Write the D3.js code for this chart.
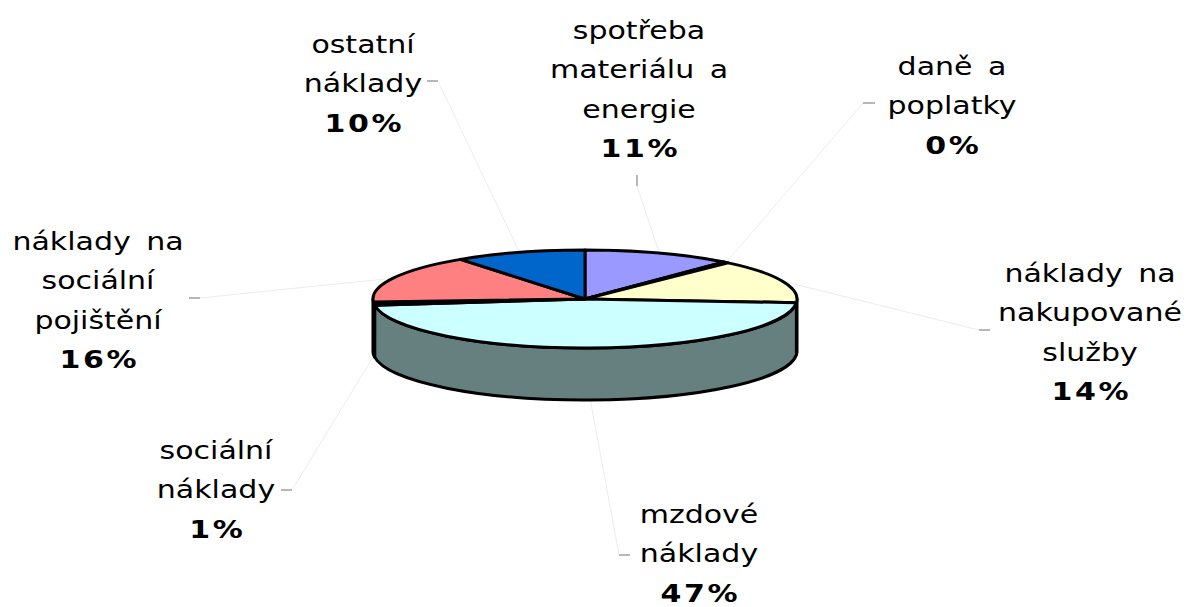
<!DOCTYPE html>
<html>
<head>
<meta charset="utf-8">
<script src="https://cdn.jsdelivr.net/npm/d3@7"></script>
<style>
  body { margin: 0; background: #fff; }
  svg { display: block; }
</style>
</head>
<body>
<svg id="chart" width="1193" height="607"></svg>
<script>
const categories = [
  'spotřeba materiálu a energie',
  'daně a poplatky',
  'náklady na nakupované služby',
  'mzdové náklady',
  'sociální náklady',
  'náklady na sociální pojištění',
  'ostatní náklady'
];
// how each category name wraps in its label
const labelLines = [
  ['spotřeba', 'materiálu a', 'energie'],
  ['daně a', 'poplatky'],
  ['náklady na', 'nakupované', 'služby'],
  ['mzdové', 'náklady'],
  ['sociální', 'náklady'],
  ['náklady na', 'sociální', 'pojištění'],
  ['ostatní', 'náklady']
];
const values = [11.4, 0.4, 14.4, 46.8, 1.0, 16.0, 10.0];
const colors = ['#9999FF', '#993366', '#FFFFCC', '#CCFFFF', '#660066', '#FF8080', '#0066CC'];

// label placement: centre x, first baseline, small tick (last point = leader end)
const labelLayout = [
  { x: 639,  y: 39,  tick: [637, 175, 637, 186] },
  { x: 952,  y: 75,  tick: [875, 103, 863, 103] },
  { x: 1090, y: 282, tick: [990, 330, 979, 330] },
  { x: 699,  y: 523, tick: [630, 555, 619, 555] },
  { x: 216,  y: 459, tick: [281, 490, 292, 490] },
  { x: 98,   y: 250, tick: [189, 298, 200, 298] },
  { x: 363,  y: 53,  tick: [427, 81, 438, 81] }
];

const width = 1193, height = 607;
const cx = 585, cy = 299, rx = 212, ry = 49, depth = 52;
const lineH = 39.3, stretch = 1.2, pctSpacing = 2.2;

const svg = d3.select('#chart');
const total = d3.sum(values);
const arcs = d3.pie().sort(null).value(d => d)(values);

function pt(a, y0) {
  return [cx + rx * Math.sin(a), y0 - ry * Math.cos(a)];
}
function shade(c) {
  const r = d3.rgb(c);
  return d3.rgb(r.r / 2, r.g / 2, r.b / 2).formatHex();
}

// leader lines + ticks (drawn under the pie)
const leaders = svg.append('g');
arcs.forEach((d, i) => {
  const mid = (d.startAngle + d.endAngle) / 2;
  const front = Math.cos(mid) < 0;
  const p = pt(mid, front ? cy + depth : cy);
  const t = labelLayout[i].tick;
  leaders.append('line')
    .attr('x1', p[0]).attr('y1', p[1]).attr('x2', t[2]).attr('y2', t[3])
    .attr('stroke', '#ececec').attr('stroke-width', 1);
  leaders.append('line')
    .attr('x1', t[0]).attr('y1', t[1]).attr('x2', t[2]).attr('y2', t[3])
    .attr('stroke', '#888').attr('stroke-width', 1.2);
});

// side walls, only the front half is visible
const sides = svg.append('g');
arcs.forEach((d, i) => {
  const a = Math.max(d.startAngle, Math.PI / 2);
  const b = Math.min(d.endAngle, Math.PI * 1.5);
  if (b <= a) return;
  const p1 = pt(a, cy), p2 = pt(b, cy), p3 = pt(b, cy + depth), p4 = pt(a, cy + depth);
  sides.append('path')
    .attr('d', `M${p1}A${rx},${ry} 0 0 1 ${p2}L${p3}A${rx},${ry} 0 0 0 ${p4}Z`)
    .attr('fill', shade(colors[i]))
    .attr('stroke', '#000').attr('stroke-width', 3).attr('stroke-linejoin', 'round');
});

// top faces
const tops = svg.append('g');
arcs.forEach((d, i) => {
  const p1 = pt(d.startAngle, cy), p2 = pt(d.endAngle, cy);
  const large = d.endAngle - d.startAngle > Math.PI ? 1 : 0;
  tops.append('path')
    .attr('d', `M${cx},${cy}L${p1}A${rx},${ry} 0 ${large} 1 ${p2}Z`)
    .attr('fill', colors[i])
    .attr('stroke', '#000').attr('stroke-width', 3).attr('stroke-linejoin', 'round');
});

// labels
const labels = svg.append('g')
  .attr('font-family', '"DejaVu Sans", Verdana, sans-serif')
  .attr('font-size', 25).attr('fill', '#000');
labelLines.forEach((lines, i) => {
  const L = labelLayout[i];
  const g = labels.append('g').attr('transform', `translate(${L.x},0) scale(${stretch},1)`);
  lines.forEach((s, j) => {
    g.append('text').attr('x', 0).attr('y', L.y + j * lineH)
      .attr('text-anchor', 'middle').attr('word-spacing', 5).text(s);
  });
  g.append('text').attr('x', pctSpacing / 2).attr('y', L.y + lines.length * lineH)
    .attr('text-anchor', 'middle').attr('font-weight', 'bold')
    .attr('letter-spacing', pctSpacing)
    .text(Math.round(values[i] / total * 100) + '%');
});
</script>
</body>
</html>
